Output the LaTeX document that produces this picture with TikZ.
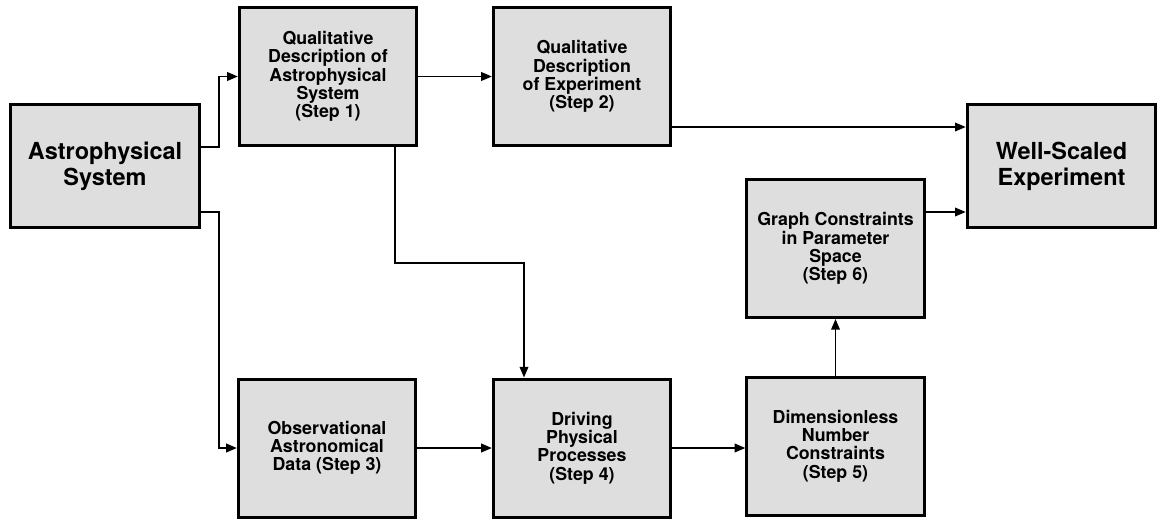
\documentclass[tikz,border=0pt]{standalone}
\usepackage{fontspec}
\setmainfont{TeX Gyre Heros}
\usetikzlibrary{arrows.meta}
\begin{document}
\begin{tikzpicture}[x=0.75pt,y=-0.75pt,
  stepbox/.style={draw,line width=2.25pt,fill=black!13,align=center,inner sep=0pt,
    minimum width=133pt,minimum height=103.5pt,font=\bfseries\fontsize{13.35}{13.7}\selectfont},
  bigbox/.style={stepbox,minimum width=141.5pt,minimum height=92.25pt,
    font=\bfseries\fontsize{17.6}{19.3}\selectfont},
  conn/.style={line width=1.1pt,-{Triangle[length=8pt,width=6.5pt]}}]
\useasboundingbox (0,0) rectangle (1158,521);
\node[bigbox] (astro) at (105,166) {Astrophysical\\System};
\node[stepbox] (step1) at (328,76.5) {Qualitative\\Description of\\Astrophysical\\System\\(Step 1)};
\node[stepbox] (step2) at (582,76.5) {Qualitative\\Description\\of Experiment\\(Step 2)};
\node[bigbox] (well) at (1061.5,166) {Well-Scaled\\Experiment};
\node[stepbox] (step6) at (835.5,248.5) {Graph Constraints\\in Parameter\\Space\\(Step 6)};
\node[stepbox] (step3) at (327,448) {Observational\\Astronomical\\Data (Step 3)};
\node[stepbox] (step4) at (582,448) {Driving\\Physical\\Processes\\(Step 4)};
\node[stepbox] (step5) at (835.5,446) {Dimensionless\\Number\\Constraints\\(Step 5)};
\draw[conn] (astro.east |- 0,147) -- ++(18,0) |- (step1);
\draw[conn] (astro.east |- 0,212) -- ++(18,0) |- (step3);
\draw[conn] (step1) -- (step2);
\draw[conn] (step1.south -| 395,0) -- (395,263) -| (step4.north -| 524,0);
\draw[conn] (step2.east |- 0,127) -- (well.west |- 0,127);
\draw[conn] (step6.east |- 0,212) -- (well.west |- 0,212);
\draw[conn] (step3) -- (step4);
\draw[conn] (step4.east) -- (step5.west |- step4.east);
\draw[conn] (step5) -- (step6);
\end{tikzpicture}
\end{document}
